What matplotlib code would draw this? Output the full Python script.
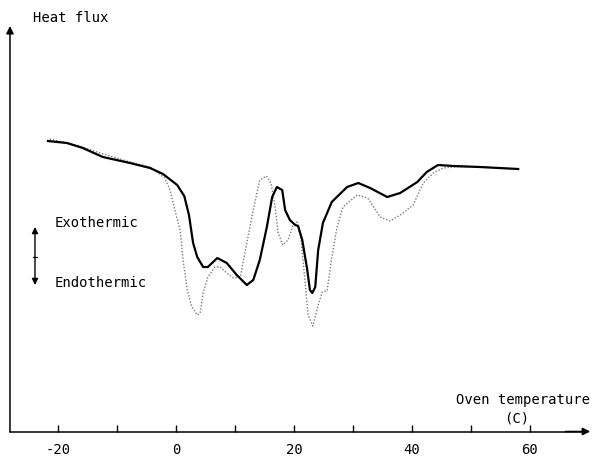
import numpy as np
import matplotlib.pyplot as plt

# oven temperature (C) and heat flux (arbitrary units)
temp_solid = [-21.7, -18.5, -15.8, -12.4, -7.8, -4.4, -2.2, 0.2, 1.4, 2.2, 2.9, 3.6,
              4.6, 5.4, 7.0, 8.6, 10.3, 12.0, 13.1, 14.2, 15.4, 16.3, 17.1, 18.0,
              18.5, 19.3, 20.2, 20.7, 21.4, 22.2, 22.7, 23.1, 23.6, 24.1, 24.9,
              26.4, 29.0, 30.9, 32.9, 35.8, 38.0, 40.9, 42.5, 44.4, 47.0, 51.5, 58.0]
flux_solid = [292, 290, 285, 276, 270, 265, 259, 248, 237, 218, 190, 176,
              166, 166, 175, 170, 158, 148, 153, 173, 206, 236, 246, 243,
              223, 213, 208, 207, 193, 165, 143, 140, 146, 183, 210,
              231, 246, 250, 245, 236, 240, 251, 261, 268, 267, 266, 264]

temp_dotted = [-21.4, -16.3, -13.4, -7.8, -4.4, -1.9, -1.0, -0.2, 0.7, 1.2, 1.9, 2.7,
               3.6, 4.1, 4.6, 5.4, 6.6, 7.5, 8.6, 9.7, 10.9, 12.0, 13.1, 14.2,
               15.3, 16.1, 16.8, 17.3, 18.1, 19.0, 19.8, 20.5, 21.2, 21.9, 22.4,
               23.2, 24.1, 24.8, 25.6, 26.4, 27.3, 28.3, 30.7, 32.5, 34.6, 36.3,
               38.0, 40.2, 41.9, 43.6, 45.3, 47.0, 51.5, 58.0]
flux_dotted = [294, 287, 281, 271, 266, 255, 243, 223, 203, 173, 143, 126,
               118, 120, 140, 156, 166, 166, 160, 155, 156, 190, 223, 253,
               257, 250, 226, 200, 188, 193, 207, 211, 193, 150, 118,
               107, 128, 141, 142, 175, 206, 226, 238, 235, 216, 212,
               218, 228, 250, 260, 265, 266, 266, 264]

xticks = [-20, -10, 0, 10, 20, 30, 40, 50, 60]
xticklabels = ['-20', '', '0', '', '20', '', '40', '', '60']

plt.rcParams['font.family'] = 'DejaVu Sans Mono'

fig = plt.figure(figsize=(5.92, 4.59), dpi=100)
ax = fig.add_axes([0, 0, 1, 1])
ax.set_xlim(-29.83, 70.51)
ax.set_ylim(-26, 433)

x0 = -28.14   # where the flux axis sits

# the two traces
ax.plot(temp_dotted, flux_dotted, color='#7a7a7a', lw=1.0, ls=(0, (1, 1.3)))
ax.plot(temp_solid, flux_solid, color='black', lw=1.6)

# axes with arrow heads
for s in ['top', 'right', 'left']:
    ax.spines[s].set_visible(False)
ax.spines['bottom'].set_position(('data', 1.5))
ax.spines['bottom'].set_bounds(x0, 69)
ax.spines['bottom'].set_linewidth(1.1)
ax.annotate('', xy=(70.2, 1.5), xytext=(66, 1.5),
            arrowprops=dict(arrowstyle='-|>', color='black', lw=1.1,
                            mutation_scale=11, shrinkA=0, shrinkB=0))
ax.annotate('', xy=(x0, 407), xytext=(x0, 1.5),
            arrowprops=dict(arrowstyle='-|>', color='black', lw=1.1,
                            mutation_scale=11, shrinkA=0, shrinkB=0))

ax.set_xticks(xticks)
ax.set_xticklabels(xticklabels, fontsize=10)
ax.tick_params(axis='x', direction='in', length=5, width=1.0, pad=8.5)
ax.set_yticks([])

# labels
ax.text(-24.2, 415, 'Heat flux', fontsize=10, ha='left', va='center')
ax.text(70.2, 33, 'Oven temperature', fontsize=10, ha='right', va='center')
ax.text(57.8, 14, '(C)', fontsize=10, ha='center', va='center')
ax.text(-20.5, 210, 'Exothermic', fontsize=10, ha='left', va='center')
ax.text(-20.5, 150, 'Endothermic', fontsize=10, ha='left', va='center')

# exo / endo double arrow
ax.annotate('', xy=(-23.9, 206), xytext=(-23.9, 176),
            arrowprops=dict(arrowstyle='-|>', color='black', lw=1.0,
                            mutation_scale=9, shrinkA=0, shrinkB=0))
ax.annotate('', xy=(-23.9, 148), xytext=(-23.9, 176),
            arrowprops=dict(arrowstyle='-|>', color='black', lw=1.0,
                            mutation_scale=9, shrinkA=0, shrinkB=0))
ax.plot([-24.3, -23.5], [176, 176], color='black', lw=0.8)

fig.savefig('out.png', dpi=100)
